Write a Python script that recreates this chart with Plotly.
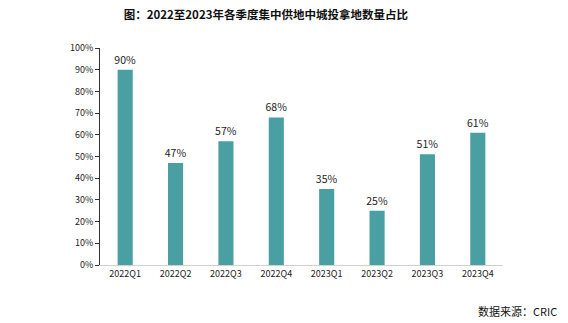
import plotly.graph_objects as go

categories = ["2022Q1", "2022Q2", "2022Q3", "2022Q4", "2023Q1", "2023Q2", "2023Q3", "2023Q4"]
values = [90, 47, 57, 68, 35, 25, 51, 61]
labels = [f"{v}%" for v in values]

fig = go.Figure()
fig.add_trace(go.Bar(
    x=categories, y=values, text=labels, textposition="outside",
    constraintext="none",
    marker=dict(color="#4A9FA3", line=dict(width=0)), width=0.3,
    textfont=dict(size=10.5, color="#222", family="Noto Sans CJK SC"),
    cliponaxis=False,
))
fig.update_layout(
    width=568, height=323,
    margin=dict(l=100, r=65, t=48, b=58),
    plot_bgcolor="white", paper_bgcolor="white",
    showlegend=False,
    font=dict(family="Noto Sans CJK SC", size=9, color="#222"),
    title=dict(text="<b>图：2022至2023年各季度集中供地中城投拿地数量占比</b>",
               x=0.468, xanchor="center", y=0.955, yanchor="middle",
               font=dict(size=11.5, color="#111")),
    annotations=[dict(text="数据来源：CRIC", xref="paper", yref="paper",
                      x=1.14, y=-0.21, xanchor="right", yanchor="middle",
                      showarrow=False, font=dict(size=11, color="#111"))],
)
fig.update_yaxes(range=[0, 100], dtick=10, ticksuffix="%", showgrid=False,
                 showline=True, linecolor="#333", linewidth=1,
                 ticks="outside", ticklen=4, tickcolor="#333",
                 tickfont=dict(size=9), zeroline=False)
fig.update_xaxes(showline=True, linecolor="#D0D0D0", linewidth=1,
                 showgrid=False, ticks="", tickfont=dict(size=9))
fig.write_html("out.html")
